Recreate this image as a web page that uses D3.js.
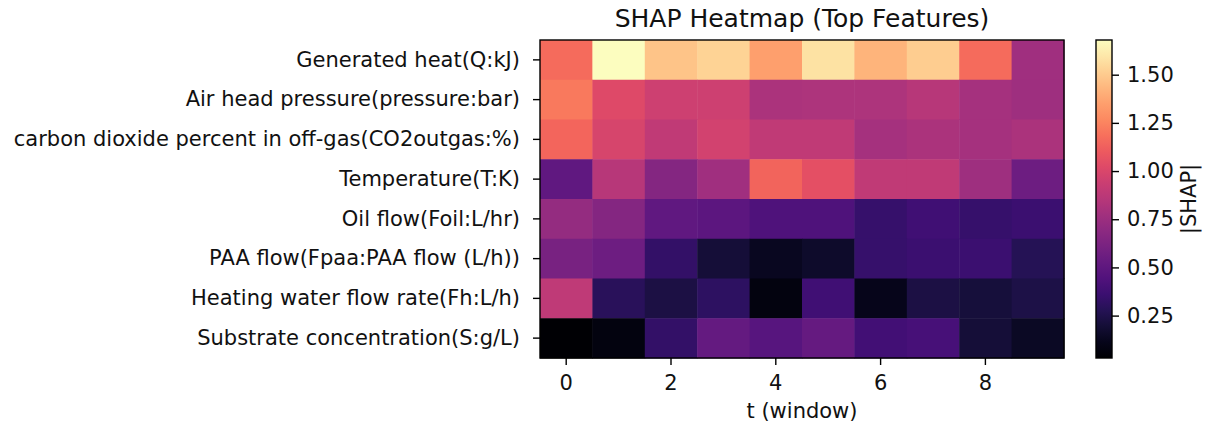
<!DOCTYPE html>
<html>
<head>
<meta charset="utf-8">
<script src="https://cdn.jsdelivr.net/npm/d3@7"></script>
<style>
  body { margin: 0; background: #fff; }
  text { font-family: "DejaVu Sans", sans-serif; fill: #111; }
</style>
</head>
<body>
<div id="heatmap"></div>
<script>
// features, top to bottom
const features = [
  "Generated heat(Q:kJ)",
  "Air head pressure(pressure:bar)",
  "carbon dioxide percent in off-gas(CO2outgas:%)",
  "Temperature(T:K)",
  "Oil flow(Foil:L/hr)",
  "PAA flow(Fpaa:PAA flow (L/h))",
  "Heating water flow rate(Fh:L/h)",
  "Substrate concentration(S:g/L)"
];
const steps = [0, 1, 2, 3, 4, 5, 6, 7, 8, 9];
const xTicks = [0, 2, 4, 6, 8];
const cbTicks = [0.25, 0.5, 0.75, 1.0, 1.25, 1.5];

// |SHAP| per feature, per window step
const heatQ   = [1.17, 1.68, 1.48, 1.53, 1.35, 1.58, 1.42, 1.51, 1.17, 0.77];
const airP    = [1.22, 1.02, 0.95, 0.95, 0.81, 0.82, 0.82, 0.86, 0.79, 0.76];
const co2     = [1.15, 0.99, 0.90, 0.97, 0.90, 0.90, 0.79, 0.81, 0.79, 0.81];
const tempT   = [0.51, 0.86, 0.66, 0.77, 1.14, 1.05, 0.90, 0.90, 0.76, 0.56];
const oilFlow = [0.72, 0.66, 0.51, 0.49, 0.44, 0.44, 0.34, 0.38, 0.34, 0.36];
const paaFlow = [0.61, 0.56, 0.33, 0.20, 0.13, 0.16, 0.34, 0.36, 0.36, 0.28];
const waterFh = [0.89, 0.29, 0.23, 0.31, 0.08, 0.38, 0.11, 0.23, 0.21, 0.24];
const substr  = [0.03, 0.08, 0.33, 0.52, 0.47, 0.53, 0.39, 0.41, 0.20, 0.14];
const rows = [heatQ, airP, co2, tempT, oilFlow, paaFlow, waterFh, substr];

const W = 1210, H = 427;
const plot = { left: 540, right: 1064, top: 40, bottom: 358 };
const cb = { left: 1096, right: 1112 };
const fs = "21px";

const svg = d3.select("#heatmap").append("svg")
  .attr("width", W).attr("height", H);

const x = d3.scaleBand().domain(steps).range([plot.left, plot.right]);
const y = d3.scaleBand().domain(features).range([plot.top, plot.bottom]);

const cells = [];
rows.forEach((r, i) => r.forEach((v, j) => cells.push({ f: features[i], t: steps[j], v: v })));
const ext = d3.extent(cells, d => d.v);
const color = d3.scaleSequential(d3.interpolateMagma).domain(ext);

svg.append("g").selectAll("rect")
  .data(cells)
  .enter().append("rect")
  .attr("x", d => x(d.t))
  .attr("y", d => y(d.f))
  .attr("width", x.bandwidth() + 0.5)
  .attr("height", y.bandwidth() + 0.5)
  .attr("fill", d => color(d.v));

// frame
svg.append("rect")
  .attr("x", plot.left).attr("y", plot.top)
  .attr("width", plot.right - plot.left).attr("height", plot.bottom - plot.top)
  .attr("fill", "none").attr("stroke", "#000").attr("stroke-width", 1.4);

// axes
const xAxis = svg.append("g")
  .attr("transform", `translate(0,${plot.bottom})`)
  .call(d3.axisBottom(x).tickValues(xTicks).tickSize(7).tickPadding(10));
const yAxis = svg.append("g")
  .attr("transform", `translate(${plot.left},0)`)
  .call(d3.axisLeft(y).tickSize(7).tickPadding(13));
[xAxis, yAxis].forEach(a => {
  a.select(".domain").remove();
  a.selectAll("line").attr("stroke", "#000").attr("stroke-width", 1.4);
  a.selectAll("text").style("font-size", fs).attr("fill", "#111")
    .style("font-family", "DejaVu Sans, sans-serif");
});

svg.append("text")
  .attr("x", (plot.left + plot.right) / 2).attr("y", 418)
  .attr("text-anchor", "middle").style("font-size", fs)
  .text("t (window)");

svg.append("text")
  .attr("x", (plot.left + plot.right) / 2).attr("y", 27)
  .attr("text-anchor", "middle").style("font-size", "25px")
  .text("SHAP Heatmap (Top Features)");

// colorbar
const cy = d3.scaleLinear().domain(ext).range([plot.bottom, plot.top]);
const defs = svg.append("defs");
const grad = defs.append("linearGradient").attr("id", "cbgrad")
  .attr("x1", 0).attr("y1", 1).attr("x2", 0).attr("y2", 0);
d3.range(0, 1.0001, 0.05).forEach(s => {
  grad.append("stop").attr("offset", s).attr("stop-color", d3.interpolateMagma(s));
});
svg.append("rect")
  .attr("x", cb.left).attr("y", plot.top)
  .attr("width", cb.right - cb.left).attr("height", plot.bottom - plot.top)
  .attr("fill", "url(#cbgrad)").attr("stroke", "#000").attr("stroke-width", 1.4);

const cbAxis = svg.append("g")
  .attr("transform", `translate(${cb.right},0)`)
  .call(d3.axisRight(cy).tickValues(cbTicks).tickFormat(d3.format(".2f")).tickSize(7).tickPadding(8));
cbAxis.select(".domain").remove();
cbAxis.selectAll("line").attr("stroke", "#000").attr("stroke-width", 1.4);
cbAxis.selectAll("text").style("font-size", fs).attr("fill", "#111")
  .style("font-family", "DejaVu Sans, sans-serif");

svg.append("text")
  .attr("transform", `translate(1196,${(plot.top + plot.bottom) / 2}) rotate(-90)`)
  .attr("text-anchor", "middle").style("font-size", fs)
  .text("|SHAP|");
</script>
</body>
</html>
